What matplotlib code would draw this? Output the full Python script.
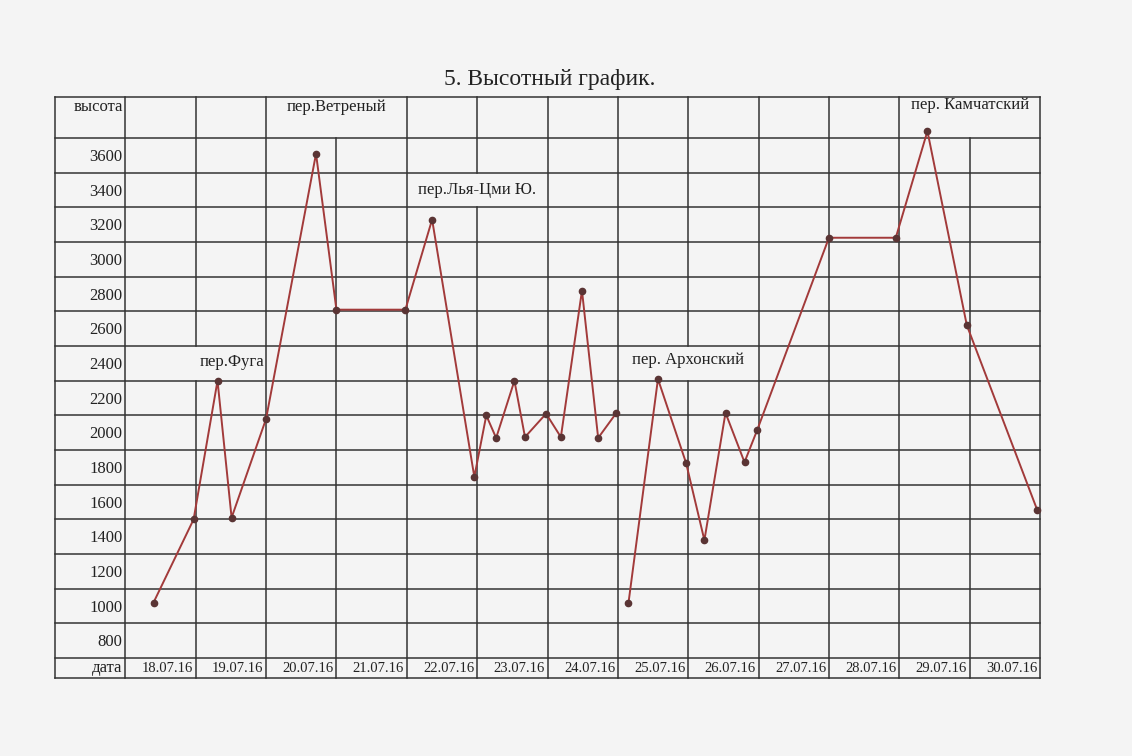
import matplotlib.pyplot as plt

plt.rcParams["font.family"] = ["Liberation Serif", "DejaVu Serif"]

# подписи осей
heights = [3600, 3400, 3200, 3000, 2800, 2600, 2400, 2200, 2000, 1800, 1600, 1400, 1200, 1000, 800]
dates = ["18.07.16", "19.07.16", "20.07.16", "21.07.16", "22.07.16", "23.07.16", "24.07.16",
         "25.07.16", "26.07.16", "27.07.16", "28.07.16", "29.07.16", "30.07.16"]

# высота по дням (x - номер дня от 18.07, дробная часть - время внутри дня)
part1_x = [0.40, 0.97, 1.31, 1.51, 2.00, 2.71, 3.00, 3.98, 4.36, 4.96, 5.13, 5.27, 5.53,
           5.68, 5.98, 6.19, 6.49, 6.72, 6.98]
part1_h = [1020, 1500, 2300, 1510, 2080, 3610, 2710, 2710, 3230, 1745, 2100, 1970, 2300,
           1975, 2110, 1975, 2820, 1970, 2115]
part2_x = [7.15, 7.57, 7.97, 8.23, 8.53, 8.80, 8.98, 10.00, 10.95, 11.40, 11.96, 12.96]
part2_h = [1015, 2310, 1825, 1380, 2115, 1830, 2015, 3125, 3125, 3740, 2620, 1555]

passes = ["пер.Фуга", "пер.Ветреный", "пер.Лья-Цми Ю.", "пер. Архонский", "пер. Камчатский"]

W, H = 1132, 756
fig = plt.figure(figsize=(W / 100, H / 100), dpi=100)
fig.patch.set_facecolor("#f4f4f4")
ax = fig.add_axes([55 / W, 78 / H, 985 / W, 581 / H])
ax.set_xlim(-1, 13)
top, bottom = 3937, 585
ax.set_ylim(bottom, top)
ax.axis("off")

grid_kw = dict(color="#333333", lw=1.1, clip_on=False, solid_capstyle="projecting")

# горизонтальные линии таблицы
row_lines = [top] + [h + 100 for h in heights] + [700, bottom]
for y in row_lines:
    ax.plot([-1, 13], [y, y], **grid_kw)

# вертикальные линии, с объединёнными ячейками
gaps = {3: (3700, top), 12: (3700, top), 5: (3300, 3500), 1: (2300, 2500), 8: (2300, 2500)}
for x in range(-1, 14):
    if x in gaps:
        lo, hi = gaps[x]
        ax.plot([x, x], [bottom, lo], **grid_kw)
        if hi < top:
            ax.plot([x, x], [hi, top], **grid_kw)
    else:
        ax.plot([x, x], [bottom, top], **grid_kw)

txt = dict(fontsize=12, color="#222222")
for h in heights:
    ax.text(-0.04, h - 10, str(h), ha="right", va="center", **txt)
ax.text(-0.04, 3879, "высота", ha="right", va="center", **txt)
ax.text(-0.04, 640, "дата", ha="right", va="center", **txt)
for i, d in enumerate(dates):
    ax.text(i + 0.96, 642, d, ha="right", va="center", fontsize=10.5, color="#222222")

ax.text(1.97, 2410, passes[0], ha="right", va="center", **txt)
ax.text(3.0, 3880, passes[1], ha="center", va="center", **txt)
ax.text(5.0, 3400, passes[2], ha="center", va="center", **txt)
ax.text(8.0, 2420, passes[3], ha="center", va="center", **txt)
ax.text(12.0, 3890, passes[4], ha="center", va="center", **txt)

line_kw = dict(color="#a23a3a", lw=1.4, marker="o", markersize=4.5,
               markerfacecolor="#5a3434", markeredgecolor="#5a3434", clip_on=False)
ax.plot(part1_x, part1_h, **line_kw)
ax.plot(part2_x, part2_h, **line_kw)

fig.text(550 / W, 1 - 80 / H, "5. Высотный график.", ha="center", va="center",
         fontsize=17, color="#222222")

fig.savefig("out.png", dpi=100, facecolor=fig.get_facecolor())
